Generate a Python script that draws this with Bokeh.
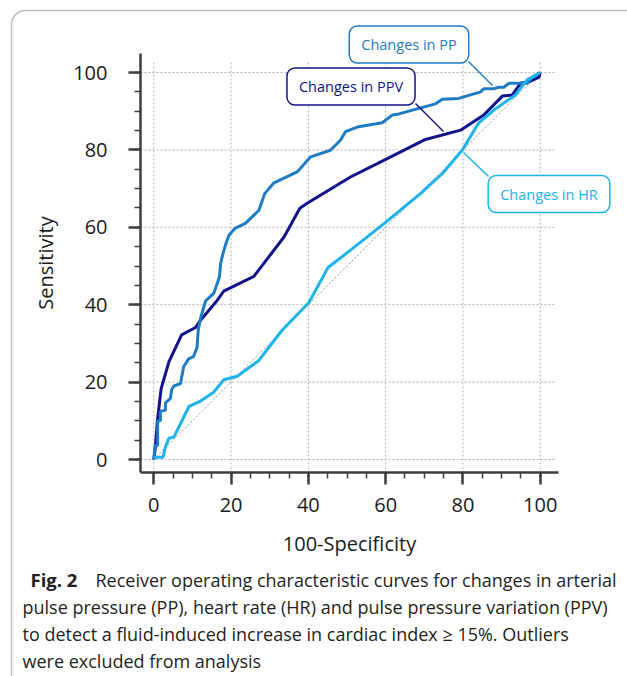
from bokeh.plotting import figure
from bokeh.models import FixedTicker, Label, BoxAnnotation, Range1d
from bokeh.embed import file_html
from bokeh.resources import INLINE

# ---- data ----
pp_x = [0, 0.3, 1.0, 1.0, 1.7, 1.7, 3.0, 3.0, 4.3, 4.6, 5.2, 6.9, 7.3, 7.7, 9.0, 10.3, 11.2, 11.5, 12.1, 13.4,
        15.5, 16.7, 17.0, 17.3, 18.0, 18.8, 19.5, 21.0, 23.7, 27.2, 28.7, 31.1, 37.1, 40.6, 45.7, 48.3, 49.6, 53.0,
        59.1, 61.7, 63.4, 72.9, 74.7, 78.9, 84.6, 85.4, 88.0, 89.3, 90.6, 91.9, 96.7, 98.0, 100]
pp_y = [0, 3.6, 3.6, 10.0, 10.0, 12.5, 12.7, 14.6, 15.8, 18.0, 19.0, 19.6, 21.7, 23.9, 26.0, 26.6, 29.0, 33.4, 36.5, 41.0,
        42.9, 46.3, 47.2, 50.7, 53.6, 56.2, 58.0, 59.7, 61.0, 64.4, 68.7, 71.5, 74.3, 78.2, 79.9, 82.5, 84.7, 86.0,
        87.0, 89.0, 89.3, 91.9, 93.1, 93.3, 95.0, 95.8, 95.8, 96.2, 96.2, 97.2, 97.2, 98.8, 100]

ppv_x = [0, 0.4, 0.9, 1.9, 3.9, 7.2, 10.8, 12.1, 16.4, 18.1, 25.9, 33.7, 37.8, 39.7, 50.9, 59.9, 70.3, 79.4,
         85.4, 90.2, 92.8, 94.9, 97.1, 99.7, 100]
ppv_y = [0, 3.0, 9.7, 18.3, 25.2, 32.2, 34.1, 36.0, 41.1, 43.5, 47.3, 57.5, 64.9, 66.2, 73.0, 77.5, 82.7, 85.1,
         89.0, 93.9, 94.2, 97.2, 97.6, 98.8, 100]

hr_x = [0, 2.4, 3.0, 3.9, 5.2, 9.1, 12.1, 15.5, 18.1, 21.6, 27.2, 31.5, 33.2, 40.1, 45.1, 50.9, 59.9, 69.0,
        74.7, 79.8, 84.1, 88.0, 93.6, 96.7, 98.4, 100]
hr_y = [0.6, 0.6, 3.2, 5.5, 5.8, 13.7, 15.1, 17.4, 20.6, 21.5, 25.6, 31.2, 33.4, 40.5, 49.6, 54.1, 61.2, 68.7,
        73.9, 79.9, 87.0, 90.3, 94.2, 98.2, 99.0, 100]

diag = [0, 100]
major_ticks = [0, 20, 40, 60, 80, 100]
minor_ticks = list(range(0, 101, 5))

series_names = ["Changes in PP", "Changes in PPV", "Changes in HR"]
caption_bold = "Fig. 2"
caption_lines = [
    "Receiver operating characteristic curves for changes in arterial",
    "pulse pressure (PP), heart rate (HR) and pulse pressure variation (PPV)",
    "to detect a fluid-induced increase in cardiac index \u2265 15%. Outliers",
    "were excluded from analysis",
]

PP_C = "#1d7cc4"
PPV_C = "#12128c"
HR_C = "#1cb2ea"
AX_C = "#3d3d3d"
FONT = "Open Sans"
W, H = 627, 676

# canvas-pixel -> data helpers (for annotation placement only)
X0, XS = 153.3, 3.864
Y0, YS = 459.0, 3.87


def dx(px):
    return (px - X0) / XS


def dy(py):
    return (Y0 - py) / YS


X_LO, X_HI = dx(140), dx(558)    # extent of the x axis line
Y_LO, Y_HI = dy(472), dy(53)     # extent of the y axis line
GRID_TOP, GRID_RIGHT = dy(62), dx(555)

p = figure(width=W, height=H, min_border=0,
           x_range=Range1d(dx(0), dx(W)), y_range=Range1d(dy(H), dy(0)),
           output_backend="svg", toolbar_location=None)
p.outline_line_color = None
p.background_fill_color = "white"
p.border_fill_color = "white"
p.grid.visible = False

for ax in (p.xaxis, p.yaxis):
    ax.ticker = FixedTicker(ticks=major_ticks, minor_ticks=minor_ticks)
    ax.axis_line_color = AX_C
    ax.axis_line_width = 2.5
    ax.major_tick_line_color = AX_C
    ax.major_tick_line_width = 2.5
    ax.minor_tick_line_color = AX_C
    ax.minor_tick_line_width = 1.5
    ax.major_tick_in = 0
    ax.major_tick_out = 12
    ax.minor_tick_in = 0
    ax.minor_tick_out = 6
    ax.major_label_text_font = FONT
    ax.major_label_text_font_size = "20px"
    ax.major_label_text_color = "#1a1a1a"
    ax.axis_label_text_font = FONT
    ax.axis_label_text_font_size = "20px"
    ax.axis_label_text_font_style = "normal"
    ax.axis_label_text_color = "#1a1a1a"

p.xaxis.fixed_location = Y_LO
p.yaxis.fixed_location = X_LO
p.xaxis.bounds = (X_LO, X_HI)
p.yaxis.bounds = (Y_LO, Y_HI)
p.xaxis.axis_label = "100-Specificity"
p.yaxis.axis_label = "Sensitivity"
p.xaxis.major_label_standoff = 13
p.yaxis.major_label_standoff = 21
p.xaxis.axis_label_standoff = 15
p.yaxis.axis_label_standoff = 11

# dotted grid at the major ticks
n = len(major_ticks)
p.segment(x0=major_ticks, y0=[Y_LO] * n, x1=major_ticks, y1=[GRID_TOP] * n,
          line_color="#b3b3b3", line_dash="2 2", line_width=1)
p.segment(x0=[X_LO] * n, y0=major_ticks, x1=[GRID_RIGHT] * n, y1=major_ticks,
          line_color="#b3b3b3", line_dash="2 2", line_width=1)

p.line(diag, diag, line_color="#999999", line_dash="2 2", line_width=1)
p.line(ppv_x, ppv_y, line_color=PPV_C, line_width=3)
p.line(pp_x, pp_y, line_color=PP_C, line_width=3)
p.line(hr_x, hr_y, line_color=HR_C, line_width=3)

# leader lines of the callouts
p.segment(x0=[dx(468), dx(415), dx(463)], y0=[dy(61), dy(103), dy(152)],
          x1=[dx(492), dx(443), dx(488)], y1=[dy(85), dy(131), dy(176)],
          line_color=[PP_C, PPV_C, HR_C], line_width=1.5)

for name, col, cx, cy in zip(series_names, [PP_C, PPV_C, HR_C],
                             [408.5, 350.5, 548.5], [44, 86, 193.5]):
    p.add_layout(Label(x=dx(cx), y=dy(cy), text=name, text_align="center", text_baseline="middle",
                       text_font=FONT, text_font_size="14.5px", text_color=col,
                       border_line_color=col, border_line_width=1.5, border_line_alpha=1.0,
                       background_fill_color="white", background_fill_alpha=1.0,
                       padding=(12, 9), border_radius=8))

# caption
CAP_C = "#231f20"
CAP_FS = "18px"
p.add_layout(Label(x=dx(30), y=dy(579), text=caption_bold, text_align="left", text_baseline="middle",
                   text_font=FONT, text_font_size="18.5px", text_font_style="bold", text_color=CAP_C))
starts = [95, 22, 22, 22]
for i, (line, sx) in enumerate(zip(caption_lines, starts)):
    p.add_layout(Label(x=dx(sx), y=dy(579 + 27 * i), text=line, text_align="left", text_baseline="middle",
                       text_font=FONT, text_font_size=CAP_FS, text_color=CAP_C))

# frame border of the figure panel (only its left and top edges are on the canvas)
p.add_layout(BoxAnnotation(left=dx(11), right=dx(W + 60), top=dy(10), bottom=dy(H + 60),
                           fill_alpha=0, line_color="#222222", line_width=1.5, border_radius=14))

open("out.html", "w").write(file_html(p, INLINE))
